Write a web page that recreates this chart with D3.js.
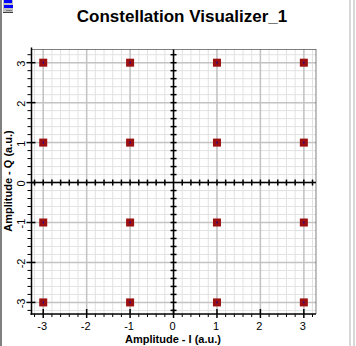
<!DOCTYPE html>
<html><head><meta charset="utf-8">
<script src="https://cdn.jsdelivr.net/npm/d3@7"></script>
<style>html,body{margin:0;padding:0;background:#fff;}svg{display:block;}</style>
</head><body>
<script>
const title = "Constellation Visualizer_1";
const xLabel = "Amplitude - I (a.u.)";
const yLabel = "Amplitude - Q (a.u.)";
const pointsI = [-3, -1, 1, 3, -3, -1, 1, 3, -3, -1, 1, 3, -3, -1, 1, 3];
const pointsQ = [3, 3, 3, 3, 1, 1, 1, 1, -1, -1, -1, -1, -3, -3, -3, -3];
const xTicks = [-3, -2, -1, 0, 1, 2, 3];
const yTicks = [-3, -2, -1, 0, 1, 2, 3];
const xDomain = [-3.27, 3.28];
const yDomain = [-3.29, 3.33];

const W = 356, H = 346;
const L = 31.5, R = 316, T = 49.5, B = 314;
const svg = d3.select("body").append("svg").attr("width", W).attr("height", H);
const x = d3.scaleLinear().domain(xDomain).range([L, R]);
const y = d3.scaleLinear().domain(yDomain).range([B, T]);

// window chrome
svg.append("rect").attr("x", 0).attr("y", 0).attr("width", 2).attr("height", H).attr("fill", "#808080");
svg.append("rect").attr("x", 349).attr("y", 0).attr("width", 2).attr("height", H).attr("fill", "#d8d8d8");
svg.append("rect").attr("x", 353).attr("y", 0).attr("width", 2).attr("height", H).attr("fill", "#d8d8d8");
const icon = svg.append("g");
icon.append("rect").attr("x", 3).attr("y", 0).attr("width", 10).attr("height", 13).attr("fill", "#c0c0c0");
icon.append("rect").attr("x", 4).attr("y", 0).attr("width", 8).attr("height", 3).attr("fill", "#0000ff");
icon.append("rect").attr("x", 4).attr("y", 5).attr("width", 9).attr("height", 3).attr("fill", "#0000ff");
icon.append("rect").attr("x", 6).attr("y", 10).attr("width", 6).attr("height", 1).attr("fill", "#808080");
icon.append("rect").attr("x", 3).attr("y", 12).attr("width", 10).attr("height", 1).attr("fill", "#404040");

// grid
const minorX = d3.range(-3.2, 3.3, 0.2).map(v => +v.toFixed(1));
const minorY = d3.range(-3.2, 3.4, 0.2).map(v => +v.toFixed(1));
const g = svg.append("g");
g.selectAll(".mx").data(minorX).join("line")
  .attr("x1", d => x(d)).attr("x2", d => x(d)).attr("y1", T).attr("y2", B)
  .attr("stroke", "#e2e2e2").attr("stroke-width", 1);
g.selectAll(".my").data(minorY).join("line")
  .attr("y1", d => y(d)).attr("y2", d => y(d)).attr("x1", L).attr("x2", R)
  .attr("stroke", "#e2e2e2").attr("stroke-width", 1);
g.selectAll(".Mx").data(xTicks).join("line")
  .attr("x1", d => x(d)).attr("x2", d => x(d)).attr("y1", T).attr("y2", B)
  .attr("stroke", "#c4c4c4").attr("stroke-width", 1.5);
g.selectAll(".My").data(yTicks).join("line")
  .attr("y1", d => y(d)).attr("y2", d => y(d)).attr("x1", L).attr("x2", R)
  .attr("stroke", "#c4c4c4").attr("stroke-width", 1.5);

// dotted top/right border
svg.append("line").attr("x1", L).attr("x2", R).attr("y1", T).attr("y2", T)
  .attr("stroke", "#000").attr("stroke-dasharray", "1,1");
svg.append("line").attr("x1", R).attr("x2", R).attr("y1", T).attr("y2", B)
  .attr("stroke", "#000").attr("stroke-dasharray", "1,1");

// left & bottom axes
svg.append("line").attr("x1", L).attr("x2", L).attr("y1", T - 2).attr("y2", B + 1).attr("stroke", "#000").attr("stroke-width", 1.5);
svg.append("line").attr("x1", L - 1).attr("x2", R).attr("y1", B).attr("y2", B).attr("stroke", "#000").attr("stroke-width", 1.5);
const tk = svg.append("g").attr("stroke", "#000").attr("stroke-width", 1);
tk.selectAll(".ly").data(minorY).join("line")
  .attr("x1", d => Number.isInteger(d) ? L - 5 : L - 4).attr("x2", d => Number.isInteger(d) ? L + 4 : L)
  .attr("y1", d => y(d)).attr("y2", d => y(d)).attr("stroke-width", d => Number.isInteger(d) ? 1.5 : 1);
tk.selectAll(".bx").data(minorX).join("line")
  .attr("y1", d => Number.isInteger(d) ? B - 5 : B).attr("y2", d => Number.isInteger(d) ? B + 4 : B + 3)
  .attr("x1", d => x(d)).attr("x2", d => x(d)).attr("stroke-width", d => Number.isInteger(d) ? 1.5 : 1);

// center axes
svg.append("line").attr("x1", x(0)).attr("x2", x(0)).attr("y1", T).attr("y2", B).attr("stroke", "#000").attr("stroke-width", 1.5);
svg.append("line").attr("x1", L).attr("x2", R).attr("y1", y(0)).attr("y2", y(0)).attr("stroke", "#000").attr("stroke-width", 1.5);
tk.selectAll(".cx").data(minorX.filter(d => d !== 0)).join("line")
  .attr("x1", d => x(d)).attr("x2", d => x(d)).attr("y1", y(0) - 3).attr("y2", y(0) + 3).attr("stroke-width", 1.5);
tk.selectAll(".cy").data(minorY.filter(d => d !== 0)).join("line")
  .attr("y1", d => y(d)).attr("y2", d => y(d)).attr("x1", x(0) - 3).attr("x2", x(0) + 3).attr("stroke-width", 1.5);

// points
svg.append("g").selectAll("rect").data(pointsI.map((v, i) => [v, pointsQ[i]])).join("rect")
  .attr("x", d => x(d[0]) - 4).attr("y", d => y(d[1]) - 4).attr("width", 8).attr("height", 8)
  .attr("fill", "#9c1010");
svg.append("g").selectAll("rect").data(pointsI.map((v, i) => [v, pointsQ[i]])).join("rect")
  .attr("x", d => x(d[0]) - 0.5).attr("y", d => y(d[1]) - 1).attr("width", 1).attr("height", 2)
  .attr("fill", "#0000c0");

// tick labels
const font = "Liberation Sans, Arial, sans-serif";
svg.append("g").selectAll("text").data(xTicks).join("text")
  .attr("x", d => x(d) - 1).attr("y", 330).attr("text-anchor", "middle")
  .attr("font-family", font).attr("font-size", 11).attr("fill", "#000")
  .text(d => d < 0 ? "-" + Math.abs(d) : d);
svg.append("g").selectAll("text").data(yTicks).join("text")
  .attr("transform", d => `translate(25,${y(d) + 1}) rotate(-90)`).attr("text-anchor", "middle")
  .attr("font-family", font).attr("font-size", 11).attr("fill", "#000")
  .text(d => d < 0 ? "-" + Math.abs(d) : d);

// titles
svg.append("text").attr("x", 182).attr("y", 22).attr("text-anchor", "middle")
  .attr("font-family", font).attr("font-weight", "bold").attr("font-size", 17).text(title);
svg.append("text").attr("x", 173).attr("y", 343).attr("text-anchor", "middle")
  .attr("font-family", font).attr("font-weight", "bold").attr("font-size", 11).text(xLabel);
svg.append("text").attr("transform", "translate(12,181) rotate(-90)").attr("text-anchor", "middle")
  .attr("font-family", font).attr("font-weight", "bold").attr("font-size", 11).text(yLabel);
</script>
</body></html>
